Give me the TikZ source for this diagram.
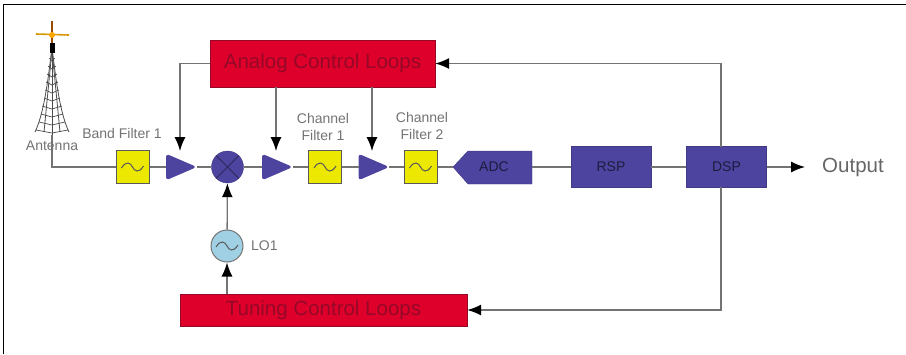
\documentclass[tikz,border=0pt]{standalone}
\usepackage{fontspec}
\setmainfont{Liberation Sans}
\usepackage{xcolor}
\usetikzlibrary{shapes.geometric, arrows.meta, positioning, calc}

\definecolor{blockblue}{RGB}{76,68,158}
\definecolor{loopred}{RGB}{222,0,42}
\definecolor{looptext}{RGB}{150,8,40}
\definecolor{filteryellow}{RGB}{236,232,0}
\definecolor{loblue}{RGB}{160,208,228}

\tikzset{
    wire/.style={draw=black!55, line width=1.3pt},
    feed/.style={wire, -{Latex[length=14pt,width=11pt,black]}},
    filterbox/.style={draw=black!65, fill=filteryellow, line width=1pt, minimum size=33pt, inner sep=0pt},
    dspbox/.style={draw=blockblue!85!black, fill=blockblue, minimum width=80pt, minimum height=41pt, inner sep=0pt, text=black!60!blockblue, font=\fontsize{14}{16}\selectfont},
    loopbox/.style={draw=looptext, fill=loopred, inner sep=0pt, text=looptext, font=\fontsize{20.5}{24}\selectfont},
    ampbox/.style={isosceles triangle, isosceles triangle stretches, draw=blockblue, fill=blockblue, rounded corners=2.5pt, line width=1pt, minimum width=25pt, minimum height=29pt, inner sep=0pt, anchor=lower side},
    caption/.style={text=black!55, font=\fontsize{14}{17}\selectfont, align=center},
}

% sine glyph for the filters and the oscillator
\newcommand{\sinewave}[1]{%
    \draw[black!65, line width=1pt] ($(#1.center)+(-11,1)$) .. controls ($(#1.center)+(-6,-7)$) and ($(#1.center)+(-2,-4)$) .. (#1.center) .. controls ($(#1.center)+(2,4)$) and ($(#1.center)+(6,7)$) .. ($(#1.center)+(11,-1)$);
}

\begin{document}
\begin{tikzpicture}[x=1pt, y=-1pt]
    \useasboundingbox (0,0) rectangle (906,354);

    % =========================================================
    % PAGE FRAME
    % =========================================================
    \draw[black, line width=1.4pt] (3.5,354) -- (3.5,4.5) -- (906,4.5);

    % =========================================================
    % ANTENNA TOWER
    % =========================================================
    \coordinate (antennabase) at (52,135);
    \foreach \s in {-1,1} {
        \draw[black!70, line width=0.8pt] (52,47) .. controls ({52+\s*5},90) and ({52+\s*9},115) .. ({52+\s*17},132);
        \draw[black!70, line width=0.8pt] (52,50) -- ({52+\s*8},132);
    }
    \foreach \y/\w in {58/3,66/4,74/5,82/6,90/7,98/8,106/10,114/11,122/13,130/16} {
        \draw[black!70, line width=0.7pt] ({52-\w},\y) -- (52,{\y+3}) -- ({52+\w},\y);
    }
    \draw[black!70, line width=1pt] (52,47) -- (antennabase);
    \fill[black] (49.5,43) rectangle (54.5,53);
    % spark on top of the tower
    \draw[orange!60!yellow!85!black, line width=1.6pt] (36,34) -- (69,35);
    \draw[black!40!orange, line width=1.2pt] (52,21) -- (52,43);
    \fill[orange!70!yellow] (52,35) circle (3pt);
    \node[caption] (antennatext) at (52,146) {Antenna};

    % =========================================================
    % SIGNAL CHAIN
    % =========================================================
    \node[filterbox] (bandfilter) at (132.5,167) {};
    \node[ampbox] (ampone) at (166,167) {};
    \node[circle, draw=blockblue!85!black, fill=blockblue, minimum size=32pt, inner sep=0pt] (mixer) at (227.5,167) {};
    \node[ampbox] (amptwo) at (262,167) {};
    \node[filterbox] (chanone) at (325,167) {};
    \node[ampbox] (ampthree) at (358.5,167) {};
    \node[filterbox] (chantwo) at (420.5,167) {};
    \coordinate (adctip) at (453,167);
    \coordinate (adcend) at (532,167);
    \draw[draw=blockblue!85!black, fill=blockblue] (adctip) -- (468,151) -- (532,151) -- (532,184) -- (468,184) -- cycle;
    \node[text=black!60!blockblue, font=\fontsize{14}{16}\selectfont] (adc) at (494,167) {ADC};
    \node[dspbox] (rsp) at (611,167) {RSP};
    \node[dspbox] (dsp) at (726.5,167) {DSP};

    \draw[blockblue!60!black, line width=0.9pt] (mixer.north west) -- (mixer.south east);
    \draw[blockblue!60!black, line width=0.9pt] (mixer.north east) -- (mixer.south west);
    \sinewave{bandfilter}
    \sinewave{chanone}
    \sinewave{chantwo}

    \node[caption] (bandtext) at (122,133) {Band Filter 1};
    \node[caption] (chanonetext) at (323,126.5) {Channel\\Filter 1};
    \node[caption] (chantwotext) at (422,126) {Channel\\Filter 2};

    % Local oscillator
    \node[circle, draw=black!55, fill=loblue, line width=1pt, minimum size=32pt, inner sep=0pt] (lo) at (227,246) {};
    \sinewave{lo}
    \node[caption, anchor=west, inner sep=0pt] (lotext) at (251,246) {LO1};

    % =========================================================
    % CONTROL LOOPS
    % =========================================================
    \node[loopbox, minimum width=225pt, minimum height=47pt] (analog) at (322.5,63.5) {Analog Control Loops};
    \node[loopbox, minimum width=287pt, minimum height=32pt] (tuning) at (323.5,310) {Tuning Control Loops};

    % =========================================================
    % CONNECTORS
    % =========================================================
    \draw[wire] (antennabase) -- (52,167) -- (bandfilter.west);
    \draw[wire] (bandfilter.east) -- (ampone.lower side);
    \draw[wire] (ampone.apex) -- (mixer.west);
    \draw[wire] (mixer.east) -- (amptwo.lower side);
    \draw[wire] (amptwo.apex) -- (chanone.west);
    \draw[wire] (chanone.east) -- (ampthree.lower side);
    \draw[wire] (ampthree.apex) -- (chantwo.west);
    \draw[wire] (chantwo.east) -- (adctip);
    \draw[wire] (adcend) -- (rsp.west);
    \draw[wire] (rsp.east) -- (dsp.west);

    \coordinate (outputend) at (805,167);
    \draw[feed] (dsp.east) -- (outputend);
    \node[anchor=west, inner sep=0pt, text=black!60, font=\fontsize{20.5}{24}\selectfont] (output) at (822,167) {Output};

    \coordinate (amponetop) at (180,151);
    \coordinate (amptwotop) at (276,151);
    \coordinate (ampthreetop) at (372,151);
    \draw[feed] (tuning.north -| lo) -- (lo);
    \draw[feed] (lo) -- (mixer);
    \draw[feed] (analog.west) -- (amponetop |- analog.west) -- (amponetop);
    \draw[feed] (analog.south -| amptwotop) -- (amptwotop);
    \draw[feed] (analog.south -| ampthreetop) -- (ampthreetop);
    \draw[feed] (721,147) -- (721,63.5) -- (analog.east);
    \draw[feed] (721,187) -- (721,310) -- (tuning.east);
\end{tikzpicture}
\end{document}
